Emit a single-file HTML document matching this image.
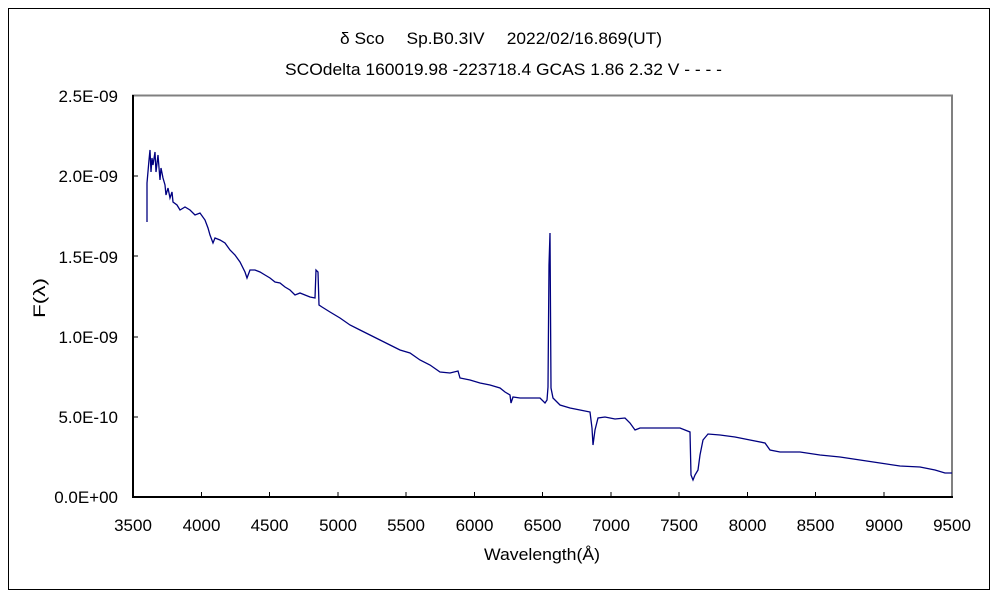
<!DOCTYPE html>
<html><head><meta charset="utf-8"><style>body{margin:0;background:#fff}</style></head><body>
<svg width="1000" height="600" xmlns="http://www.w3.org/2000/svg" font-family="'Liberation Sans','Noto Sans CJK JP',sans-serif" font-size="17" fill="#000">
<rect x="0" y="0" width="1000" height="600" fill="#fff"/>
<rect x="8.5" y="8.5" width="981" height="581" fill="none" stroke="#000" stroke-width="1"/>
<text x="340" y="44" textLength="322" lengthAdjust="spacingAndGlyphs">δ Sco　 Sp.B0.3IV　 2022/02/16.869(UT)</text>
<text x="285" y="75" textLength="437" lengthAdjust="spacingAndGlyphs">SCOdelta 160019.98 -223718.4 GCAS 1.86 2.32 V - - - -</text>
<rect x="133" y="95.5" width="819" height="401.5" fill="none" stroke="#808080" stroke-width="2"/>
<line x1="133" y1="95" x2="133" y2="498" stroke="#000" stroke-width="2"/>
<line x1="132" y1="497" x2="953" y2="497" stroke="#000" stroke-width="2"/>
<g stroke="#000" stroke-width="1">
<line x1="133" y1="176" x2="138" y2="176"/><line x1="133" y1="256" x2="138" y2="256"/><line x1="133" y1="337" x2="138" y2="337"/><line x1="133" y1="417" x2="138" y2="417"/>
<line x1="201.5" y1="497" x2="201.5" y2="492"/><line x1="269.5" y1="497" x2="269.5" y2="492"/><line x1="338" y1="497" x2="338" y2="492"/><line x1="406" y1="497" x2="406" y2="492"/><line x1="474.5" y1="497" x2="474.5" y2="492"/><line x1="542.5" y1="497" x2="542.5" y2="492"/><line x1="611" y1="497" x2="611" y2="492"/><line x1="679" y1="497" x2="679" y2="492"/><line x1="747.5" y1="497" x2="747.5" y2="492"/><line x1="815.5" y1="497" x2="815.5" y2="492"/><line x1="884" y1="497" x2="884" y2="492"/>
</g>
<g text-anchor="end">
<text x="118" y="102">2.5E-09</text><text x="118" y="182">2.0E-09</text><text x="118" y="263">1.5E-09</text><text x="118" y="343">1.0E-09</text><text x="118" y="423">5.0E-10</text><text x="118" y="503">0.0E+00</text>
</g>
<g text-anchor="middle">
<text x="133" y="531">3500</text><text x="201.5" y="531">4000</text><text x="269.5" y="531">4500</text><text x="338" y="531">5000</text><text x="406" y="531">5500</text><text x="474.5" y="531">6000</text><text x="542.5" y="531">6500</text><text x="611" y="531">7000</text><text x="679" y="531">7500</text><text x="747.5" y="531">8000</text><text x="815.5" y="531">8500</text><text x="884" y="531">9000</text><text x="952" y="531">9500</text>
</g>
<text x="484" y="560" textLength="116" lengthAdjust="spacingAndGlyphs">Wavelength(Å)</text>
<text transform="translate(45,318) rotate(-90)" textLength="40" lengthAdjust="spacingAndGlyphs">F(λ)</text>
<polyline fill="none" stroke="#000080" stroke-width="1.3" points="147,222 147,183 149,160 150,150 151,172 152,158 153,165 155,152 156,172 158,155 160,180 161,168 163,178 165,185 166,195 168,188 170,198 172,192 173,202 177,205 180,210 185,207 190,210 195,215 200,213 205,220 208,228 210,235 213,243 215,238 220,240 225,243 230,250 235,255 240,262 245,272 247,278 250,270 255,270 260,272 265,275 270,278 275,282 280,283 285,287 290,290 295,295 300,293 305,295 310,297 315,298 316,270 318,272 319,305 322,307 330,312 340,318 350,325 360,330 370,335 380,340 390,345 400,350 410,353 420,360 430,365 440,372 450,373 458,371 460,378 470,380 480,383 490,385 500,388 505,392 510,395 511,403 513,397 520,398 530,398 540,398 545,403 547,400 548,387 549,265 550,233 551,388 553,398 560,405 570,408 580,410 590,412 592,428 593,445 595,430 598,418 605,417 615,419 625,418 630,423 635,430 640,428 650,428 660,428 680,428 690,432 691,475 693,480 695,475 698,470 700,455 703,440 708,434 720,435 735,437 750,440 765,443 770,450 780,452 800,452 820,455 840,457 860,460 880,463 900,466 920,467 935,470 945,473 952,473"/>
</svg>
</body></html>
